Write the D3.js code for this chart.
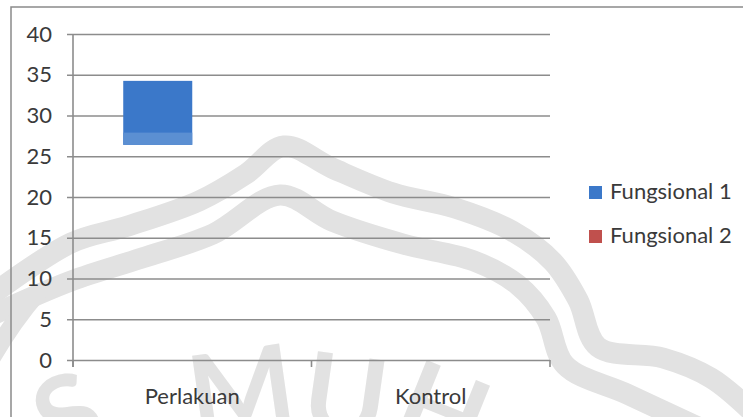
<!DOCTYPE html>
<html>
<head>
<meta charset="utf-8">
<script src="https://cdn.jsdelivr.net/npm/d3@7"></script>
<style>
html,body{margin:0;padding:0;background:#fff;}
svg{display:block;}
text{font-family:Lato,"Noto Sans",sans-serif;}
</style>
</head>
<body>
<svg id="chart" width="743" height="417"></svg>
<script>
// ---- data ----
const categories = ["Perlakuan", "Kontrol"];
const series = ["Fungsional 1", "Fungsional 2"];
const seriesColors = ["#3b78c9", "#c0504d"];
// Fungsional 1 floating bar (low / split / high), Fungsional 2 has no values
const f1Low  = [26.4, null];
const f1Mid  = [27.9, null];
const f1High = [34.25, null];
const f2Low  = [null, null];
const f2High = [null, null];
const yTicks = [0, 5, 10, 15, 20, 25, 30, 35, 40];

const svg = d3.select("#chart");
const W = 743, H = 417;
const plot = {left: 73, right: 550, top: 34, bottom: 360};

// ---- watermark (faint logo bands and letters) ----
const wm = svg.append("g").attr("fill", "none").attr("stroke", "#e2e2e2").attr("stroke-width", 21);
const line = d3.line().curve(d3.curveCatmullRom.alpha(0.5));
const outerBand = [[-10,296],[71,243],[128,226],[199,201],[246,174],[284,146],[332,168],[393,193],[455,208],[512,231],[553,262],[578,300],[598,347],[663,358],[711,378],[750,410]];
const innerBand = [[-10,316],[71,281],[142,258],[213,234],[280,195],[332,221],[403,244],[474,261],[518,285],[546,318],[565,365],[627,394],[700,428]];
wm.append("path").attr("d", line(outerBand));
wm.append("path").attr("d", line(innerBand));
wm.append("path").attr("d", "M -20,380 A 420,420 0 0 1 40,290").attr("stroke-width", 18);
const wmLetters = [
  {t: "S", x: 85, y: 452, r: -25},
  {t: "M", x: 247, y: 430, r: -8},
  {t: "U", x: 340, y: 436, r: 8},
  {t: "H", x: 428, y: 448, r: 22}
];
svg.append("g").selectAll("text").data(wmLetters).join("text")
  .attr("transform", d => `translate(${d.x},${d.y}) rotate(${d.r})`)
  .attr("text-anchor", "middle")
  .attr("font-size", 112).attr("font-weight", "bold")
  .attr("fill", "#e2e2e2")
  .text(d => d.t);

// ---- frame ----
svg.append("path").attr("d", `M11,${H+2} L11,7 L${W+2},7`)
  .attr("fill", "none").attr("stroke", "#8a8a8a").attr("stroke-width", 1.5);

// ---- scales ----
const y = d3.scaleLinear().domain([0, 40]).range([plot.bottom, plot.top]);
const x0 = d3.scaleBand().domain(categories).range([plot.left, plot.right]).padding(0);
const x1 = d3.scaleBand().domain(series).range([0, x0.bandwidth()]).paddingInner(0).paddingOuter(0.728);

// ---- gridlines + y labels ----
const yAxis = d3.axisLeft(y).tickValues(yTicks).tickSize(-(plot.right - plot.left) - 6).tickPadding(15);
const gy = svg.append("g").attr("transform", `translate(${plot.left - 0},0)`).call(yAxis);
gy.select(".domain").remove();
gy.selectAll(".tick line").attr("x1", -6).attr("x2", plot.right - plot.left)
  .attr("stroke", "#8c8c8c").attr("stroke-width", 1.6);
gy.selectAll(".tick text").attr("x", -21).attr("font-size", 22).attr("fill", "#3a3a3a")
  .attr("font-family", "Lato,sans-serif");

// ---- y axis line ----
svg.append("line").attr("x1", plot.left).attr("x2", plot.left)
  .attr("y1", plot.top).attr("y2", plot.bottom + 7)
  .attr("stroke", "#8c8c8c").attr("stroke-width", 1.6);

// ---- x axis ----
const xAxis = d3.axisBottom(x0).tickSize(0).tickPadding(28);
const gx = svg.append("g").attr("transform", `translate(0,${plot.bottom})`).call(xAxis);
gx.select(".domain").remove();
gx.selectAll(".tick text").attr("font-size", 22).attr("fill", "#3a3a3a").attr("font-family", "Lato,sans-serif");
const boundaries = categories.map(c => x0(c)).concat([x0(categories[categories.length-1]) + x0.bandwidth()]);
svg.append("g").selectAll("line").data(boundaries).join("line")
  .attr("x1", d => d).attr("x2", d => d)
  .attr("y1", plot.bottom).attr("y2", plot.bottom + 7)
  .attr("stroke", "#8c8c8c").attr("stroke-width", 1.6);

// ---- bars ----
const barData = [];
categories.forEach((c, i) => {
  if (f1Low[i] != null) {
    barData.push({c, s: series[0], lo: f1Low[i], hi: f1High[i], fill: "#3b78c9"});
    barData.push({c, s: series[0], lo: f1Low[i], hi: f1Mid[i], fill: "#5b8fd2"});
  }
  if (f2Low[i] != null) {
    barData.push({c, s: series[1], lo: f2Low[i], hi: f2High[i], fill: seriesColors[1]});
  }
});
svg.append("g").selectAll("rect").data(barData).join("rect")
  .attr("x", d => x0(d.c) + x1(d.s))
  .attr("width", x1.bandwidth())
  .attr("y", d => y(d.hi))
  .attr("height", d => y(d.lo) - y(d.hi))
  .attr("fill", d => d.fill);

// ---- legend ----
const lg = svg.append("g").selectAll("g").data(series).join("g")
  .attr("transform", (d, i) => `translate(589,${186 + i * 44})`);
lg.append("rect").attr("width", 13).attr("height", 13).attr("fill", (d, i) => seriesColors[i]);
lg.append("text").attr("x", 21).attr("y", 13).attr("font-size", 22).attr("fill", "#3a3a3a").text(d => d);
</script>
</body>
</html>
